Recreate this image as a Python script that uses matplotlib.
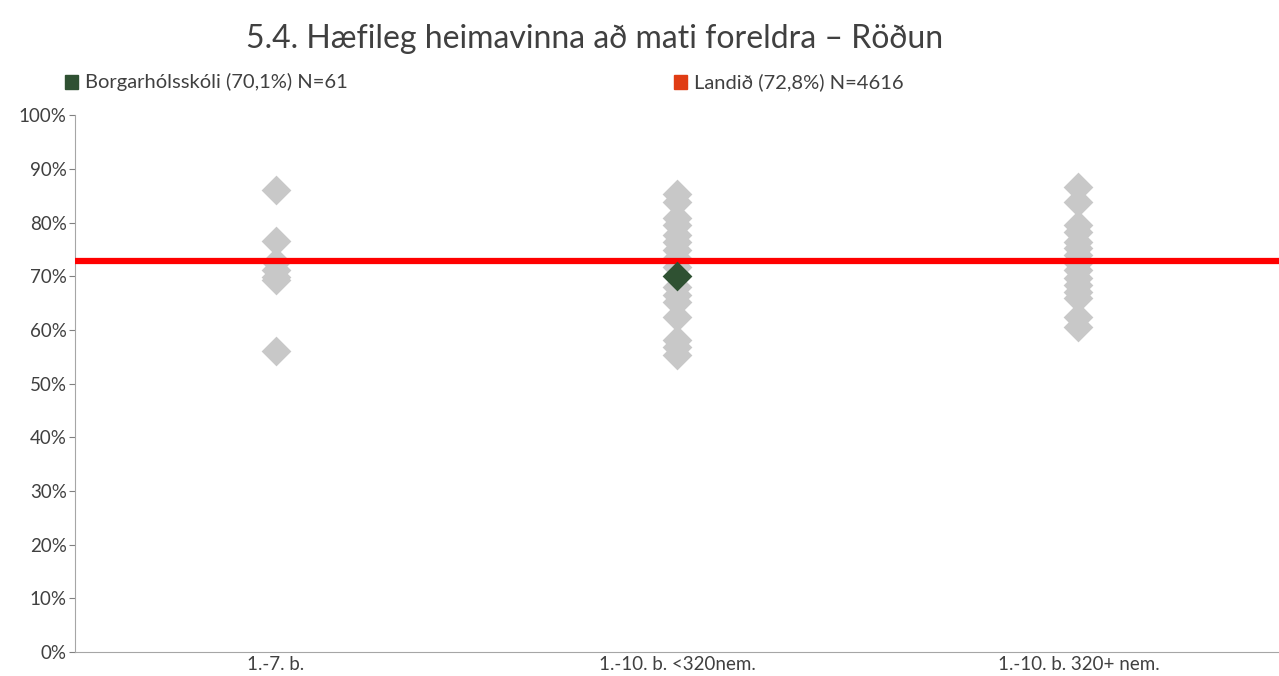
import matplotlib.pyplot as plt
from matplotlib.patches import Rectangle

categories = ['1.-7. b.', '1.-10. b. <320nem.', '1.-10. b. 320+ nem.']

# other schools in each size group (percent)
group_small = [86.0, 76.5, 72.6, 71.1, 69.9, 69.3, 56.0]
group_mid = [85.4, 83.9, 80.8, 79.5, 77.6, 76.4, 74.9, 73.4, 71.8,
             68.0, 66.5, 65.2, 62.4, 58.1, 56.9, 55.3]
group_large = [86.7, 83.9, 79.5, 78.3, 76.4, 75.2, 73.9, 72.4, 71.1,
               69.6, 68.3, 67.1, 65.9, 62.4, 60.6]

school_name = 'Borgarhólsskóli'
school_value = 70.1
school_n = 61
school_group = 1

national_value = 72.8
national_n = 4616

title = '5.4. Hæfileg heimavinna að mati foreldra – Röðun'

plt.rcParams['font.family'] = ['Lato', 'DejaVu Sans']
text_color = '#404040'

fig = plt.figure(figsize=(12.79, 6.76), dpi=100)
ax = fig.add_axes([0.0586, 0.0355, 0.9414, 0.794])

for i, vals in enumerate([group_small, group_mid, group_large]):
    ax.scatter([i] * len(vals), vals, marker='D', s=230, color='#c8c8c8',
               linewidths=0, zorder=2)

ax.axhline(national_value, color='#ff0000', linewidth=4.5, zorder=3)
ax.scatter([school_group], [school_value], marker='D', s=230,
           color='#2f5132', linewidths=0, zorder=4)

ax.set_xlim(-0.5, 2.5)
ax.set_ylim(0, 100)
ax.set_yticks(range(0, 101, 10))
ax.set_yticklabels([f'{v}%' for v in range(0, 101, 10)])
ax.set_xticks(range(len(categories)))
ax.set_xticklabels(categories)
ax.tick_params(axis='y', labelsize=13.5, colors='#808080', labelcolor=text_color,
               length=4, width=0.8, pad=2)
ax.tick_params(axis='x', labelsize=13.5, labelcolor=text_color, length=0, pad=3)

for side in ['top', 'right']:
    ax.spines[side].set_visible(False)
for side in ['left', 'bottom']:
    ax.spines[side].set_color('#a6a6a6')
    ax.spines[side].set_linewidth(0.8)

fig.text(0.465, 0.942, title, ha='center', va='center', fontsize=23,
         color=text_color)

# legend entries drawn by hand along the top
legend_items = [
    (f'{school_name} ({school_value:.1f}%) N={school_n}'.replace('.', ','), '#2f5132', 0.051),
    (f'Landið ({national_value:.1f}%) N={national_n}'.replace('.', ','), '#e03c14', 0.527),
]
for label, color, x0 in legend_items:
    fig.patches.append(Rectangle((x0, 0.869), 0.0102, 0.0195, color=color,
                                 transform=fig.transFigure, figure=fig))
    fig.text(x0 + 0.0155, 0.879, label, ha='left', va='center', fontsize=14.5,
             color=text_color)

fig.savefig('out.png', dpi=100, facecolor='white')
